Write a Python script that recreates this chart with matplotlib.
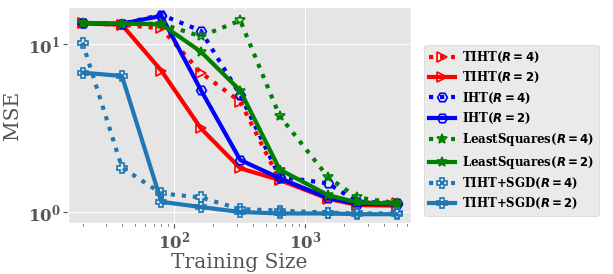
import numpy as np
import matplotlib
matplotlib.use("Agg")
import matplotlib.pyplot as plt
from matplotlib.ticker import NullLocator

plt.style.use('ggplot')
plt.rcParams['font.family'] = 'serif'
plt.rcParams['font.serif'] = ['DejaVu Serif']

# training sizes
sizes = [20, 40, 80, 160, 320, 640, 1500, 2500, 5000]

# MSE per method
tiht_r4 = [13.3, 13.0, 12.4, 6.75, 4.54, 1.55, 1.23, 1.14, 1.13]
tiht_r2 = [13.3, 13.0, 6.94, 3.15, 1.82, 1.55, 1.20, 1.10, 1.09]
iht_r4 = [13.3, 13.2, 14.9, 12.0, 4.97, 1.62, 1.48, 1.15, 1.13]
iht_r2 = [13.3, 13.2, 14.7, 5.33, 2.04, 1.59, 1.21, 1.12, 1.11]
ls_r4 = [13.3, 13.2, 13.2, 11.1, 13.8, 3.73, 1.61, 1.22, 1.13]
ls_r2 = [13.3, 13.2, 13.1, 9.0, 5.28, 1.79, 1.26, 1.14, 1.12]
sgd_r4 = [10.2, 1.84, 1.29, 1.22, 1.04, 1.02, 0.99, 0.98, 0.98]
sgd_r2 = [6.75, 6.45, 1.15, 1.07, 1.00, 0.98, 0.98, 0.97, 0.97]

series = [
    ('TIHT', 4, tiht_r4, 'red', '>'),
    ('TIHT', 2, tiht_r2, 'red', '>'),
    ('IHT', 4, iht_r4, 'blue', 'H'),
    ('IHT', 2, iht_r2, 'blue', 'H'),
    ('LeastSquares', 4, ls_r4, 'green', '*'),
    ('LeastSquares', 2, ls_r2, 'green', '*'),
    ('TIHT+SGD', 4, sgd_r4, '#1f77b4', 'P'),
    ('TIHT+SGD', 2, sgd_r2, '#1f77b4', 'P'),
]

fig = plt.figure(figsize=(6.13, 2.74), dpi=100)
ax = fig.add_axes([68 / 613, 51 / 274, 343 / 613, 216 / 274])

for name, r, vals, col, mk in series:
    ls = ':' if r == 4 else '-'
    ax.plot(sizes, vals, linestyle=ls, color=col, marker=mk, markersize=7,
            markerfacecolor='none', markeredgewidth=1.2, linewidth=3,
            label=name + r'($\boldsymbol{R=%d}$)' % r)

ax.set_xscale('log')
ax.set_yscale('log')
ax.set_xlim(15.5, 6440)
ax.set_ylim(0.86, 16.6)
ax.yaxis.set_minor_locator(NullLocator())

for lab in ax.get_xticklabels() + ax.get_yticklabels():
    lab.set_fontweight('bold')
ax.tick_params(labelsize=12, colors='#555555', pad=2)
ax.set_xlabel('Training Size', fontsize=14.5, color='#555555', labelpad=0)
ax.set_ylabel('MSE', fontsize=14.5, color='#555555', labelpad=4)

leg = ax.legend(loc='upper left', bbox_to_anchor=(1.038, 0.824),
                prop={'weight': 'bold', 'size': 8.5}, handlelength=2.2,
                labelspacing=0.45, borderaxespad=0, handletextpad=0.6)

fig.savefig('out.png', dpi=100)
